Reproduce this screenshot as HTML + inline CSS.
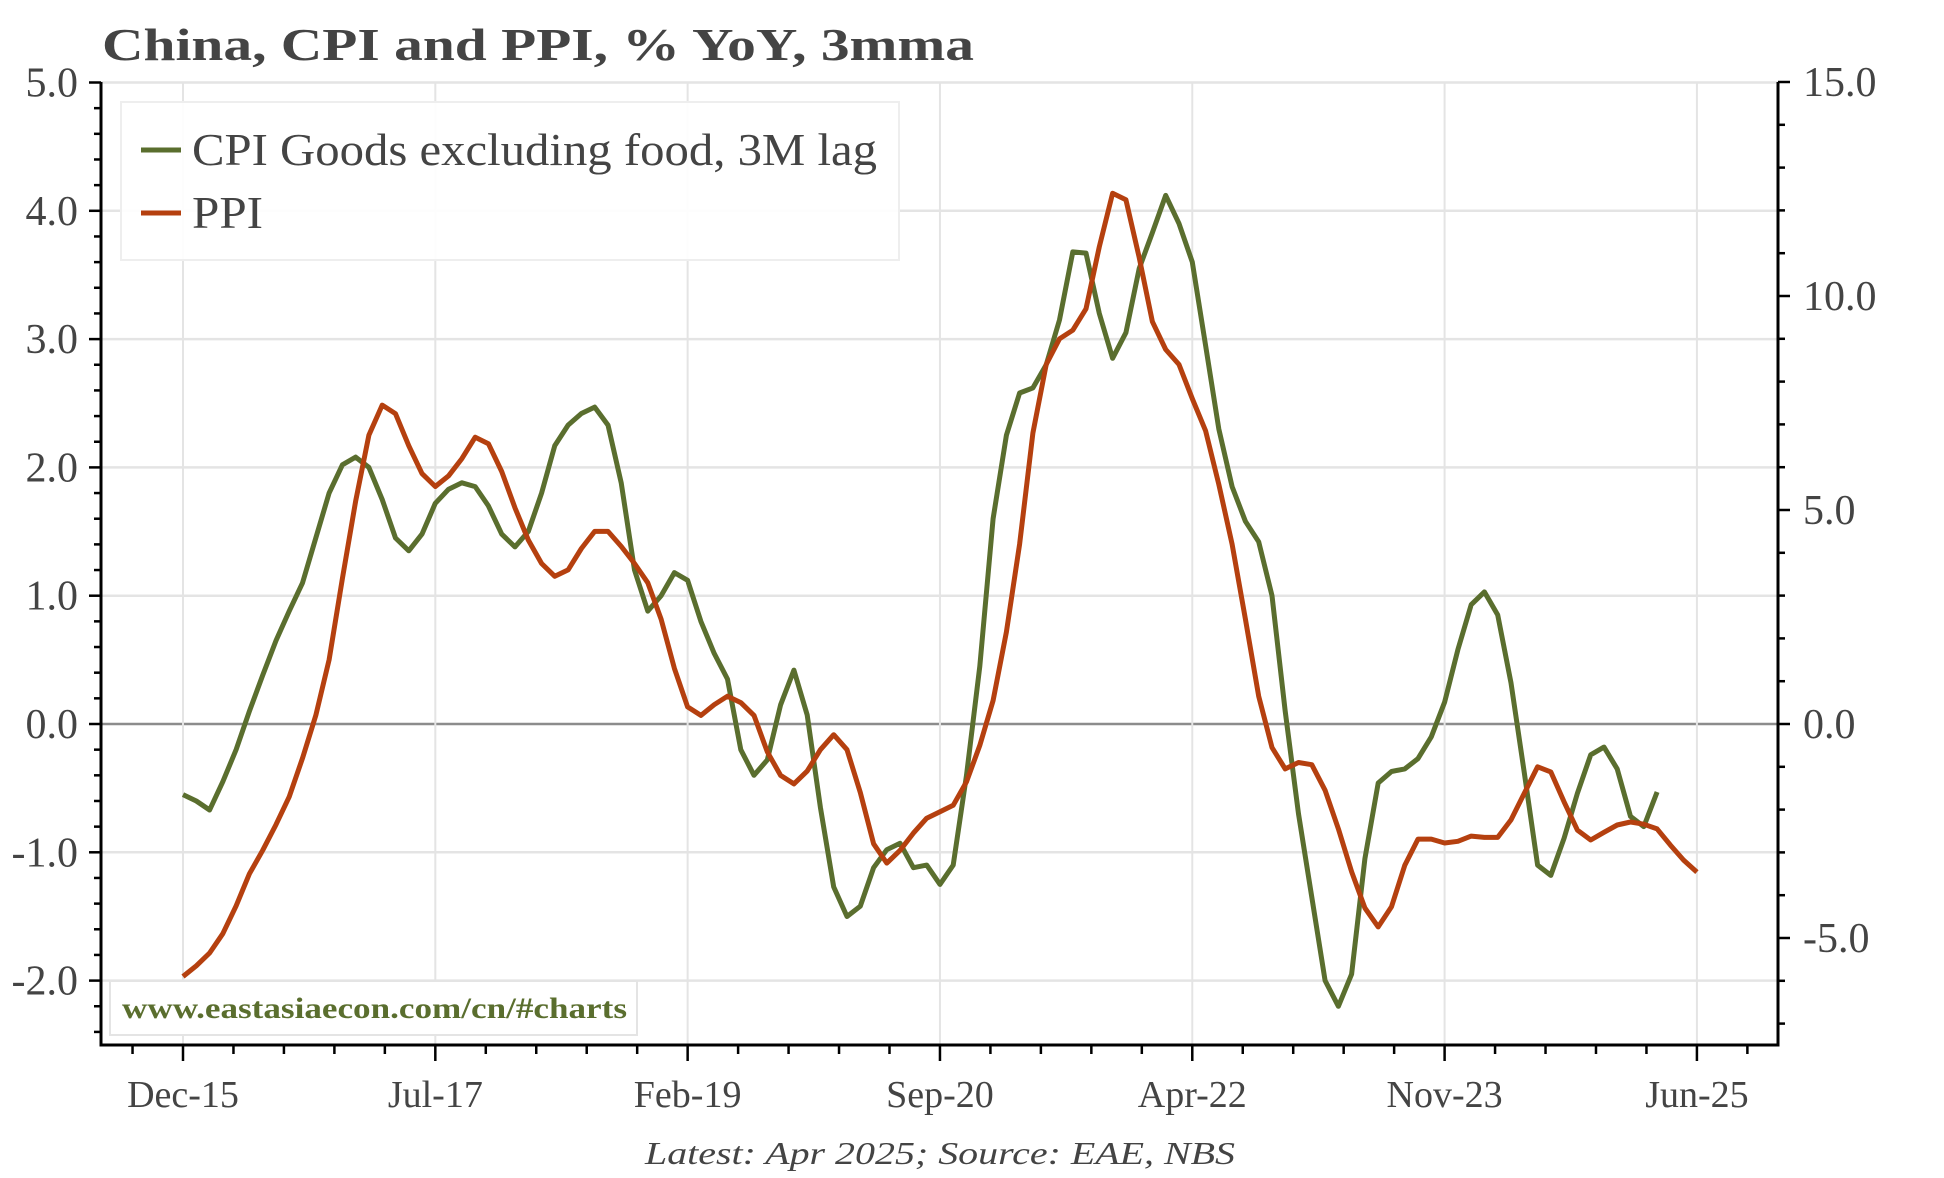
<!DOCTYPE html>
<html><head><meta charset="utf-8"><style>
html,body{margin:0;padding:0;background:#fff;}
svg{display:block;font-family:"Liberation Serif",serif;}
</style></head><body>
<svg id="chart" width="1944" height="1178" viewBox="0 0 1944 1178" xmlns="http://www.w3.org/2000/svg">
<text x="102" y="60" font-size="46" font-weight="bold" fill="#444" textLength="872" lengthAdjust="spacingAndGlyphs">China, CPI and PPI, % YoY, 3mma</text>
<g id="grid"></g>
<g id="axes"></g>
<g id="series"></g>
<g>
<rect x="121" y="102" width="778" height="158" fill="#fff" fill-opacity="0.9" stroke="#eee" stroke-width="2"/>
<line x1="141" y1="150" x2="181" y2="150" stroke="#5a6e2e" stroke-width="5"/>
<text x="192" y="165" font-size="46" fill="#444" textLength="685" lengthAdjust="spacingAndGlyphs">CPI Goods excluding food, 3M lag</text>
<line x1="141" y1="213" x2="181" y2="213" stroke="#b5400f" stroke-width="5"/>
<text x="192" y="228" font-size="46" fill="#444" textLength="71" lengthAdjust="spacingAndGlyphs">PPI</text>
</g>
<g>
<rect x="110" y="981" width="527" height="54" fill="#fff" stroke="#e4e4e4" stroke-width="2"/>
<text x="122" y="1018" font-size="30" font-weight="bold" fill="#5a6e2e" textLength="505" lengthAdjust="spacingAndGlyphs">www.eastasiaecon.com/cn/#charts</text>
</g>
<text x="645" y="1164" font-size="32" font-style="italic" fill="#444" textLength="590" lengthAdjust="spacingAndGlyphs">Latest: Apr 2025; Source: EAE, NBS</text>
</svg>
<script>
const xLabels = ["Dec-15","Jul-17","Feb-19","Sep-20","Apr-22","Nov-23","Jun-25"];
const leftTicks = [-2,-1,0,1,2,3,4,5];
const rightTicks = [-5,0,5,10,15];
const cpiValues = [-0.55,-0.6,-0.67,-0.45,-0.2,0.1,0.38,0.65,0.88,1.1,1.45,1.8,2.02,2.08,2.0,1.75,1.45,1.35,1.48,1.72,1.83,1.88,1.85,1.7,1.48,1.38,1.5,1.8,2.17,2.33,2.42,2.47,2.33,1.88,1.2,0.88,1.0,1.18,1.12,0.8,0.55,0.35,
-0.2,-0.4,-0.28,0.15,0.42,0.07,-0.65,-1.27,-1.5,-1.42,-1.12,-0.98,-0.93,-1.12,-1.1,-1.25,-1.1,-0.4,0.45,1.6,2.25,2.58,2.62,2.8,3.15,3.68,3.67,3.2,2.85,3.05,3.55,3.83,4.12,3.9,3.6,2.95,2.3,1.85,1.58,1.42,1.0,0.1,-0.7,-1.35,-2.0,-2.2,-1.95,
-1.05,
-0.46,-0.37,-0.35,-0.27,-0.1,0.17,0.58,0.93,1.03,0.85,0.32,-0.38,-1.1,-1.18,-0.89,-0.54,-0.24,-0.18,-0.35,-0.72,-0.8,-0.53];
const ppiValues = [-5.9,-5.65,-5.35,-4.9,-4.25,-3.5,-2.95,-2.35,-1.7,-0.8,0.2,1.5,3.4,5.2,6.75,7.45,7.25,6.5,5.85,5.55,5.8,6.2,6.7,6.55,5.9,5.05,4.3,3.75,3.45,3.6,4.1,4.5,4.5,4.15,3.75,3.3,2.45,1.3,0.4,0.2,0.45,0.65,0.5,0.2,
-0.65,-1.2,-1.4,-1.1,-0.6,-0.25,-0.6,-1.6,-2.8,-3.25,-2.95,-2.55,-2.2,-2.05,-1.9,-1.35,-0.5,0.55,2.15,4.2,6.8,8.4,9.0,9.2,9.7,11.15,12.4,12.25,10.9,9.4,8.75,8.4,7.6,6.85,5.6,4.2,2.45,0.65,-0.55,-1.05,-0.9,-0.95,-1.55,-2.45,-3.45,
-4.3,
-4.74,-4.27,-3.3,-2.69,-2.69,-2.78,-2.74,-2.62,-2.65,-2.65,-2.24,-1.62,-1.0,-1.12,-1.82,-2.48,-2.71,-2.53,-2.36,-2.29,-2.34,-2.45,-2.83,-3.18,-3.46];

const NS="http://www.w3.org/2000/svg";
const L=101,R=1778,T=82,B=1045;
function xs(i){return 183+i*13.28;}
function yl(v){return 724-v*128.3;}
function yr(v){return 724-v*42.8;}
function mk(tag,attrs,parent){const e=document.createElementNS(NS,tag);for(const k in attrs)e.setAttribute(k,attrs[k]);parent.appendChild(e);return e;}
const grid=document.getElementById('grid'),axes=document.getElementById('axes'),series=document.getElementById('series');

leftTicks.forEach(v=>{
  const g=mk('line',{x1:L,x2:R,y1:yl(v),y2:yl(v),stroke:v===0?'#8c8c8c':'#e4e4e4','stroke-width':v===0?2.5:2.5},grid);
  
  
  const t=mk('text',{x:78,y:yl(v)+14,'font-size':42,fill:'#444','text-anchor':'end'},axes);
  t.textContent=v.toFixed(1);
  
  
});
xLabels.forEach((lab,k)=>{
  const x=xs(k*19);
  const g=mk('line',{x1:x,x2:x,y1:T,y2:B,stroke:'#e4e4e4','stroke-width':2},grid);
  
  
  const t=mk('text',{x:x,y:1107,'font-size':38,fill:'#444','text-anchor':'middle'},axes);
  t.textContent=lab;
  
  
});
// axis lines
let a=mk('line',{x1:L,x2:L,y1:T,y2:B+1.5,stroke:'#000','stroke-width':3},axes);


a=mk('line',{x1:R,x2:R,y1:T,y2:B+1.5,stroke:'#000','stroke-width':3},axes);


a=mk('line',{x1:L,x2:R,y1:B,y2:B,stroke:'#000','stroke-width':3},axes);


// left ticks every 0.2
for(let k=0;k<=37;k++){const v=5-k*0.2;const y=yl(v);const major=Math.abs(v-Math.round(v))<1e-6;
  mk('line',{x1:major?L-12:L-7,x2:L,y1:y,y2:y,stroke:'#000','stroke-width':2.5},axes);}
// right ticks every 1
for(let v=15;v>=-7;v--){const y=yr(v);const major=v%5===0;
  mk('line',{x1:R,x2:major?R+12:R+7,y1:y,y2:y,stroke:'#000','stroke-width':2.5},axes);}
rightTicks.forEach(v=>{
  const t=mk('text',{x:1803,y:yr(v)+14,'font-size':42,fill:'#444'},axes);
  t.textContent=v.toFixed(1);
  
  
});
// x ticks
for(let k=-1;k<=31;k++){const i=k*19/5;const x=xs(i);if(x<L||x>R)continue;const major=k%5===0;
  mk('line',{x1:x,x2:x,y1:B,y2:B+(major?16:9),stroke:'#000','stroke-width':2.5},axes);}
// series
function path(vals,yf){return vals.map((v,i)=>(i?'L':'M')+xs(i).toFixed(1)+','+yf(v).toFixed(1)).join(' ');}
const pc=mk('path',{d:path(cpiValues,yl),fill:'none',stroke:'#5a6e2e','stroke-width':5,'stroke-linejoin':'round'},series);


const pp=mk('path',{d:path(ppiValues,yr),fill:'none',stroke:'#b5400f','stroke-width':5,'stroke-linejoin':'round'},series);


</script>
</body></html>
